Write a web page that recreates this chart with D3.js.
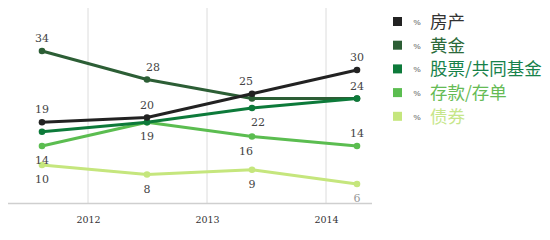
<!DOCTYPE html>
<html>
<head>
<meta charset="utf-8">
<script src="https://cdn.jsdelivr.net/npm/d3@7"></script>
<style>
  body { margin: 0; background: #fff; }
  svg { display: block; }
</style>
</head>
<body>
<div id="chart"></div>
<script>
// Data
var periods = [0, 1, 2, 3];
var years = ['2012', '2013', '2014'];
var seriesNames = ['房产', '黄金', '股票/共同基金', '存款/存单', '债券'];
var housing = [19, 20, 25, 30];
var gold = [34, 28, 24, 24];
var stocks = [17, 19, 22, 24];
var deposits = [14, 19, 16, 14];
var bonds = [10, 8, 9, 6];
// which values carry a label, and where it sits
var housingLabels = ['a', 'a', 'al', 'a'];
var goldLabels = ['a', 'ar', '', ''];
var stocksLabels = ['', '', 'br', 'a'];
var depositsLabels = ['b', 'b', 'bl', 'a'];
var bondsLabels = ['b', 'b', 'b', 'b'];

var colors = ['#222222', '#2c5e35', '#0d7a3a', '#5bbd50', '#c5e67d'];
var textColors = ['#333333', '#2c6a3a', '#17824a', '#66bb55', '#c6e68a'];

var series = [
  { name: seriesNames[0], values: housing, labels: housingLabels },
  { name: seriesNames[1], values: gold, labels: goldLabels },
  { name: seriesNames[2], values: stocks, labels: stocksLabels },
  { name: seriesNames[3], values: deposits, labels: depositsLabels },
  { name: seriesNames[4], values: bonds, labels: bondsLabels }
];

var width = 550, height = 240;

var svg = d3.select('#chart').append('svg')
  .attr('width', width)
  .attr('height', height);

var x = d3.scaleLinear().domain([0, 3]).range([42, 357]);
var xYear = d3.scalePoint().domain(years).range([88, 326]);
var y = d3.scaleLinear().domain([2, 40]).range([203, 22.5]);

// vertical grid lines
svg.append('g')
  .selectAll('line')
  .data(years)
  .enter().append('line')
    .attr('x1', function(d) { return xYear(d); })
    .attr('x2', function(d) { return xYear(d); })
    .attr('y1', 8)
    .attr('y2', 203)
    .attr('stroke', '#dcdcdc')
    .attr('stroke-width', 1);

// x axis
var xAxis = svg.append('g')
  .attr('transform', 'translate(0,203)')
  .call(d3.axisBottom(xYear).tickSize(0).tickPadding(13));
xAxis.select('.domain').remove();
xAxis.selectAll('text')
  .style('font-family', '"DejaVu Serif", serif')
  .style('font-size', '9.5px')
  .style('fill', '#333');

svg.append('line')
  .attr('x1', 8).attr('x2', 372)
  .attr('y1', 203.5).attr('y2', 203.5)
  .attr('stroke', '#cfcfcf')
  .attr('stroke-width', 1.5);

var line = d3.line()
  .x(function(d, i) { return x(periods[i]); })
  .y(function(d) { return y(d); });

// draw back to front so the black line sits on top
var order = [4, 3, 1, 2, 0];
order.forEach(function(k) {
  var s = series[k];
  var g = svg.append('g');
  g.append('path')
    .datum(s.values)
    .attr('d', line)
    .attr('fill', 'none')
    .attr('stroke', colors[k])
    .attr('stroke-width', 3)
    .attr('stroke-linejoin', 'round');
  g.selectAll('circle')
    .data(s.values)
    .enter().append('circle')
      .attr('cx', function(d, i) { return x(periods[i]); })
      .attr('cy', function(d) { return y(d); })
      .attr('r', 3.3)
      .attr('fill', colors[k]);
});

// value labels
var offsets = {
  a: [0, -9], ar: [6, -9], al: [-6, -9],
  b: [0, 18], br: [6, 18], bl: [-6, 18]
};
series.forEach(function(s) {
  svg.append('g')
    .selectAll('text')
    .data(s.values.map(function(v, i) { return { v: v, i: i, p: s.labels[i] }; })
      .filter(function(d) { return d.p; }))
    .enter().append('text')
      .attr('x', function(d) { return x(periods[d.i]) + offsets[d.p][0]; })
      .attr('y', function(d) { return y(d.v) + offsets[d.p][1]; })
      .attr('text-anchor', 'middle')
      .style('font-family', '"DejaVu Serif", serif')
      .style('font-size', '11px')
      .style('fill', function(d) { return d.p === 'b' && d.i === 3 ? '#999' : '#444'; })
      .text(function(d) { return d.v; });
});

// legend
var legend = svg.append('g')
  .selectAll('g')
  .data(series)
  .enter().append('g')
    .attr('transform', function(d, i) { return 'translate(393,' + (22 + i * 23.7) + ')'; });

legend.append('rect')
  .attr('x', 0).attr('y', -5)
  .attr('width', 9).attr('height', 9)
  .attr('fill', function(d, i) { return colors[i]; });

legend.append('text')
  .attr('x', 24).attr('y', 3)
  .attr('text-anchor', 'middle')
  .style('font-family', '"DejaVu Serif", serif')
  .style('font-size', '8px')
  .style('fill', '#555')
  .text('%');

legend.append('text')
  .attr('x', 37).attr('y', 6)
  .style('font-family', '"Noto Sans CJK SC", sans-serif')
  .style('font-size', '17.5px')
  .style('fill', function(d, i) { return textColors[i]; })
  .text(function(d) { return d.name; });
</script>
</body>
</html>
